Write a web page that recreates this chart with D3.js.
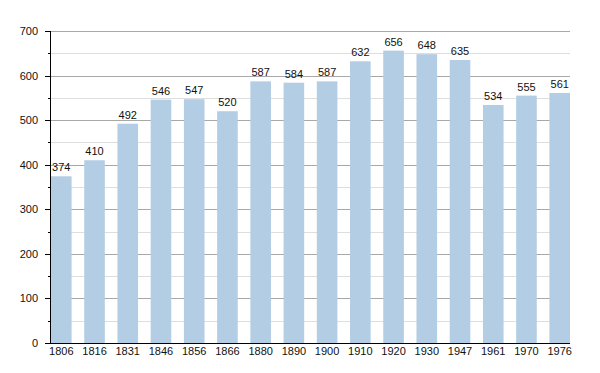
<!DOCTYPE html>
<html lang="en">
<head>
    <meta charset="UTF-8">
    <script src="https://cdn.jsdelivr.net/npm/d3@7"></script>
    <style>
        body { margin: 0; background: white; }
        text { font-family: "Liberation Sans", Arial, sans-serif; font-size: 11px; fill: #111; }
    </style>
</head>
<body>
    <div id="chart"></div>
    <script>
        const years = ["1806", "1816", "1831", "1846", "1856", "1866", "1880", "1890", "1900", "1910", "1920", "1930", "1947", "1961", "1970", "1976"];
        const population = [374, 410, 492, 546, 547, 520, 587, 584, 587, 632, 656, 648, 635, 534, 555, 561];
        const yTicks = [0, 100, 200, 300, 400, 500, 600, 700];
        const yMinor = [50, 150, 250, 350, 450, 550, 650];

        const width = 600, height = 373;
        const plotLeft = 50, plotRight = 570, plotTop = 31, plotBottom = 343;

        const svg = d3.select("#chart").append("svg")
            .attr("width", width)
            .attr("height", height);

        const x = d3.scaleBand().domain(years).range([plotLeft + 1, plotRight]).paddingInner(0.38).paddingOuter(0);
        const y = d3.scaleLinear().domain([0, 700]).range([plotBottom, plotTop]);
        const py = d => Math.round(y(d)) + 0.5;

        // grid lines
        svg.selectAll(".minor").data(yMinor).enter().append("line")
            .attr("x1", plotLeft).attr("x2", plotRight)
            .attr("y1", py).attr("y2", py)
            .attr("stroke", "#dedede");
        svg.selectAll(".major").data(yTicks.slice(1)).enter().append("line")
            .attr("x1", plotLeft).attr("x2", plotRight)
            .attr("y1", py).attr("y2", py)
            .attr("stroke", "#a8a8a8");

        // bars
        svg.selectAll(".bar").data(population).enter().append("rect")
            .attr("x", (d, i) => x(years[i]))
            .attr("y", d => y(d))
            .attr("width", x.bandwidth())
            .attr("height", d => plotBottom - y(d))
            .attr("fill", "#b3cde4");

        // value labels
        svg.selectAll(".val").data(population).enter().append("text")
            .attr("x", (d, i) => x(years[i]) + x.bandwidth() / 2)
            .attr("y", d => y(d) - 5)
            .attr("text-anchor", "middle")
            .text(d => d);

        // y axis
        svg.append("line").attr("x1", plotLeft + 0.5).attr("x2", plotLeft + 0.5)
            .attr("y1", plotTop).attr("y2", plotBottom).attr("stroke", "#000");
        svg.selectAll(".ytick").data(yTicks).enter().append("line")
            .attr("x1", plotLeft - 5).attr("x2", plotLeft)
            .attr("y1", py).attr("y2", py)
            .attr("stroke", "#000");
        svg.selectAll(".ymtick").data(yMinor).enter().append("line")
            .attr("x1", plotLeft - 2).attr("x2", plotLeft)
            .attr("y1", py).attr("y2", py)
            .attr("stroke", "#000");
        svg.selectAll(".ylab").data(yTicks).enter().append("text")
            .attr("x", plotLeft - 12)
            .attr("y", d => y(d) + 4)
            .attr("text-anchor", "end")
            .text(d => d);

        // x axis
        svg.append("line").attr("x1", plotLeft - 5).attr("x2", plotRight)
            .attr("y1", plotBottom + 0.5).attr("y2", plotBottom + 0.5).attr("stroke", "#000");
        svg.selectAll(".xlab").data(years).enter().append("text")
            .attr("x", d => x(d) + x.bandwidth() / 2)
            .attr("y", plotBottom + 12)
            .attr("text-anchor", "middle")
            .text(d => d);
    </script>
</body>
</html>
